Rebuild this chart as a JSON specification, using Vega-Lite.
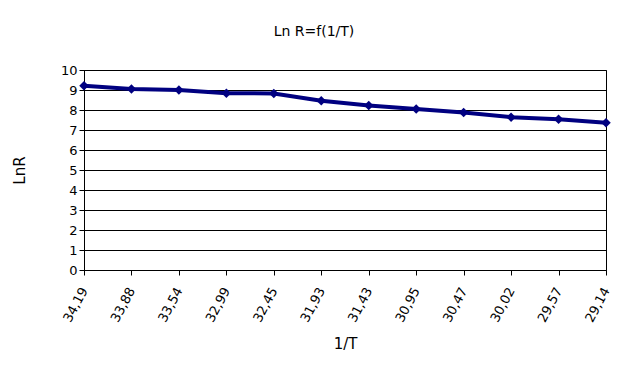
{
  "$schema": "https://vega.github.io/schema/vega-lite/v6.json",
  "autosize": "none",
  "width": 522,
  "height": 200,
  "padding": {"left": 84, "top": 70, "right": 23, "bottom": 99},
  "background": "white",
  "title": {
    "text": "Ln R=f(1/T)",
    "font": "DejaVu Sans",
    "fontSize": 14,
    "fontWeight": "normal",
    "color": "black",
    "anchor": "middle",
    "dx": -31,
    "offset": 25
  },
  "data": {
    "values": [
      {"invT": "34,19", "lnR": 9.21},
      {"invT": "33,88", "lnR": 9.05},
      {"invT": "33,54", "lnR": 9.0},
      {"invT": "32,99", "lnR": 8.84},
      {"invT": "32,45", "lnR": 8.83},
      {"invT": "31,93", "lnR": 8.46},
      {"invT": "31,43", "lnR": 8.22},
      {"invT": "30,95", "lnR": 8.05},
      {"invT": "30,47", "lnR": 7.87},
      {"invT": "30,02", "lnR": 7.64},
      {"invT": "29,57", "lnR": 7.54},
      {"invT": "29,14", "lnR": 7.36}
    ]
  },
  "encoding": {
    "x": {
      "field": "invT",
      "type": "ordinal",
      "sort": null,
      "scale": {"type": "point", "padding": 0},
      "axis": {
        "title": "1/T",
        "labelAngle": -62,
        "labelFontSize": 13,
        "labelPadding": 13,
        "titleFontSize": 15,
        "titlePadding": 12,
        "grid": false
      }
    },
    "y": {
      "field": "lnR",
      "type": "quantitative",
      "scale": {"domain": [0, 10], "nice": false, "zero": true},
      "axis": {
        "title": "LnR",
        "values": [0, 1, 2, 3, 4, 5, 6, 7, 8, 9, 10],
        "labelFontSize": 13,
        "titleFontSize": 15,
        "titlePadding": 33,
        "grid": true
      }
    }
  },
  "layer": [
    {"mark": {"type": "line", "color": "#000080", "strokeWidth": 4}},
    {"mark": {"type": "point", "shape": "diamond", "filled": true, "color": "#000080", "size": 90, "opacity": 1}}
  ],
  "config": {
    "font": "DejaVu Sans",
    "view": {"stroke": "black", "strokeWidth": 1},
    "axis": {
      "labelFont": "DejaVu Sans",
      "titleFont": "DejaVu Sans",
      "labelColor": "black",
      "titleColor": "black",
      "titleFontWeight": "normal",
      "domainColor": "black",
      "tickColor": "black",
      "gridColor": "black",
      "gridOpacity": 1,
      "tickSize": 5,
      "domainWidth": 1,
      "tickWidth": 1,
      "gridWidth": 1
    }
  }
}
